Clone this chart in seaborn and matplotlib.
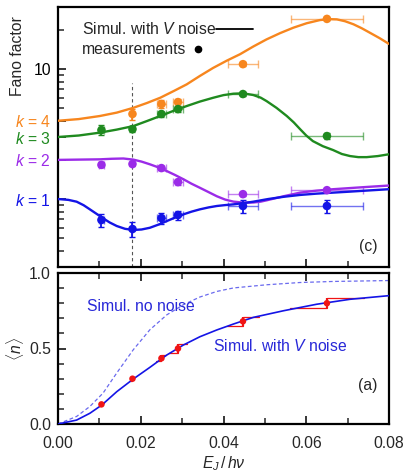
import numpy as np
import pandas as pd
import matplotlib
matplotlib.use("Agg")
import matplotlib.pyplot as plt
import seaborn as sns
from matplotlib.ticker import FixedLocator, NullFormatter

sns.set_style("ticks")
plt.rcParams['font.family'] = ['Liberation Sans', 'DejaVu Sans']
plt.rcParams['mathtext.fontset'] = 'custom'
plt.rcParams['mathtext.rm'] = 'Liberation Sans'
plt.rcParams['mathtext.it'] = 'Liberation Sans:italic'
plt.rcParams['mathtext.bf'] = 'Liberation Sans:bold'

# ---------------- data ----------------
# measurement abscissae and their horizontal uncertainty
x_meas = [0.0105, 0.0180, 0.0250, 0.0290, 0.0447, 0.0650]
x_err = [0.0006, 0.0, 0.0011, 0.0012, 0.0036, 0.0088]

# Fano factor measurements (top panel, log scale)
fano_k4 = [np.nan, 4.51, 5.38, 5.57, 10.9, 24.3]
fano_k4_err = [0.0, 0.45, 0.35, 0.35, 0.4, 0.6]
fano_k3 = [3.39, 3.45, 4.51, 4.92, 6.42, 3.05]
fano_k3_err = [0.3, 0.2, 0.2, 0.25, 0.25, 0.15]
fano_k2 = [1.83, 1.86, 1.73, 1.35, 1.09, 1.17]
fano_k2_err = [0.08, 0.08, 0.05, 0.06, 0.03, 0.03]
fano_k1 = [0.69, 0.588, 0.714, 0.753, 0.884, 0.884]
fano_k1_err = [0.08, 0.08, 0.07, 0.06, 0.10, 0.10]

# simulated curves with V noise (top panel)
sim_k4_x = [0, 0.0050, 0.0101, 0.0142, 0.0182, 0.0215, 0.0247, 0.0280, 0.0311, 0.0343, 0.0375, 0.0408, 0.0440, 0.0472, 0.0504, 0.0537, 0.0569, 0.0601, 0.0633, 0.0655, 0.0674, 0.0694, 0.0714, 0.0734, 0.0754, 0.0777, 0.0800]
sim_k4_y = [4.0, 4.12, 4.35, 4.62, 5.03, 5.48, 6.01, 6.78, 7.62, 8.85, 10.2, 11.6, 13.0, 14.9, 16.9, 18.9, 20.8, 22.5, 23.8, 24.2, 24.1, 23.3, 22.1, 20.6, 19.0, 17.3, 15.6]
sim_k3_x = [0, 0.0050, 0.0101, 0.0142, 0.0182, 0.0215, 0.0247, 0.0280, 0.0311, 0.0343, 0.0375, 0.0400, 0.0424, 0.0448, 0.0472, 0.0490, 0.0504, 0.0528, 0.0553, 0.0570, 0.0585, 0.0600, 0.0616, 0.0640, 0.0665, 0.0686, 0.0706, 0.0726, 0.0746, 0.0773, 0.0800]
sim_k3_y = [3.0, 3.08, 3.24, 3.42, 3.64, 3.98, 4.35, 4.78, 5.19, 5.62, 6.01, 6.30, 6.46, 6.50, 6.31, 6.02, 5.67, 5.03, 4.35, 3.88, 3.45, 3.08, 2.79, 2.55, 2.38, 2.22, 2.14, 2.10, 2.10, 2.14, 2.21]
sim_k2_x = [0, 0.0050, 0.0101, 0.0130, 0.0158, 0.0182, 0.0202, 0.0222, 0.0243, 0.0263, 0.0283, 0.0303, 0.0323, 0.0343, 0.0364, 0.0384, 0.0404, 0.0424, 0.0448, 0.0472, 0.0490, 0.0504, 0.0545, 0.0585, 0.0625, 0.0665, 0.0732, 0.0800]
sim_k2_y = [2.0, 2.01, 2.02, 2.04, 2.05, 2.01, 1.94, 1.85, 1.75, 1.64, 1.53, 1.42, 1.31, 1.22, 1.13, 1.05, 0.99, 0.955, 0.938, 0.940, 0.955, 0.977, 1.05, 1.12, 1.16, 1.19, 1.23, 1.27]
sim_k1_x = [0, 0.0025, 0.0045, 0.0062, 0.0077, 0.0093, 0.0109, 0.0125, 0.0142, 0.0162, 0.0182, 0.0202, 0.0222, 0.0243, 0.0263, 0.0283, 0.0303, 0.0323, 0.0343, 0.0364, 0.0384, 0.0404, 0.0424, 0.0448, 0.0472, 0.0508, 0.0545, 0.0585, 0.0625, 0.0665, 0.0706, 0.0753, 0.0800]
sim_k1_y = [1.0, 0.985, 0.954, 0.896, 0.833, 0.770, 0.711, 0.660, 0.620, 0.590, 0.578, 0.583, 0.601, 0.636, 0.677, 0.720, 0.762, 0.800, 0.833, 0.862, 0.884, 0.898, 0.910, 0.930, 0.954, 1.00, 1.04, 1.075, 1.10, 1.12, 1.14, 1.165, 1.19]

# mean photon number (bottom panel)
n_meas = [0.13, 0.30, 0.435, 0.50, 0.68, 0.80]
n_err = [0.012, 0.012, 0.02, 0.028, 0.031, 0.035]
n_xerr = [0.0005, 0.0005, 0.0012, 0.0022, 0.0038, 0.0089]
sim_n_x = [0, 0.0045, 0.0077, 0.0106, 0.0142, 0.0182, 0.0222, 0.0263, 0.0303, 0.0343, 0.0384, 0.0424, 0.0472, 0.0545, 0.0625, 0.0706, 0.0800]
sim_n_y = [0, 0.026, 0.071, 0.126, 0.214, 0.298, 0.375, 0.457, 0.523, 0.578, 0.623, 0.662, 0.706, 0.750, 0.793, 0.826, 0.850]
sim_nonoise_x = [0, 0.0045, 0.0077, 0.0109, 0.0142, 0.0182, 0.0222, 0.0263, 0.0303, 0.0343, 0.0384, 0.0424, 0.0504, 0.0585, 0.0665, 0.0800]
sim_nonoise_y = [0, 0.05, 0.116, 0.205, 0.338, 0.492, 0.624, 0.723, 0.790, 0.841, 0.878, 0.901, 0.922, 0.937, 0.944, 0.950]

vline_x = 0.018
vline_top = 7.8

# ---------------- style ----------------
C_ORANGE = '#F7861E'
C_GREEN = '#1F8A1F'
C_PURPLE = '#9B2BE8'
C_BLUE = '#1414E6'
C_RED = '#F01414'
C_TXT = '#2828D8'
FS = 11.3

fig = plt.figure(figsize=(4.07, 4.72), dpi=100)
ax1 = fig.add_axes([58/407, 1-267/472, 331/407, 260/472])
ax2 = fig.add_axes([58/407, 1-424/472, 331/407, 151/472])

# ---------------- top panel ----------------
series = [
    (sim_k4_x, sim_k4_y, fano_k4, fano_k4_err, C_ORANGE),
    (sim_k3_x, sim_k3_y, fano_k3, fano_k3_err, C_GREEN),
    (sim_k2_x, sim_k2_y, fano_k2, fano_k2_err, C_PURPLE),
    (sim_k1_x, sim_k1_y, fano_k1, fano_k1_err, C_BLUE),
]
ax1.vlines(vline_x, 0.3, vline_top, colors='#555555', linestyles=(0, (3, 2.5)), linewidth=0.8, zorder=1)
for sx, sy, my, me, col in series:
    df = pd.DataFrame({'x': sx, 'y': sy})
    sns.lineplot(data=df, x='x', y='y', ax=ax1, color=col, linewidth=1.7, zorder=3)
    ax1.errorbar(x_meas, my, xerr=x_err, fmt='none', ecolor=col, alpha=0.6,
                 elinewidth=1.0, capsize=3, capthick=1.0, zorder=2)
    ax1.errorbar(x_meas, my, yerr=me, fmt='none', ecolor=col,
                 elinewidth=1.3, capsize=2, capthick=1.0, zorder=4)
    dm = pd.DataFrame({'x': x_meas, 'y': my})
    sns.scatterplot(data=dm, x='x', y='y', ax=ax1, color=col, s=38, edgecolor='none', zorder=5)

ax1.set_yscale('log')
ax1.set_xlim(0, 0.08)
ax1.set_ylim(0.3, 30)
ax1.set_xlabel('')
ax1.set_ylabel('Fano factor', fontsize=FS)
ax1.yaxis.set_label_coords(-0.10, 0.81)
ax1.set_yticks([1, 2, 3, 4, 10])
ax1.set_yticklabels(['$k$ = 1', '$k$ = 2', '$k$ = 3', '$k$ = 4', '10'])
for lab, col in zip(ax1.get_yticklabels(), [C_BLUE, C_PURPLE, C_GREEN, C_ORANGE, 'black']):
    lab.set_color(col)
ax1.yaxis.set_minor_locator(FixedLocator([0.4, 0.5, 0.6, 0.7, 0.8, 0.9, 5, 6, 7, 8, 9, 20]))
ax1.yaxis.set_minor_formatter(NullFormatter())
ax1.set_xticks([0, 0.02, 0.04, 0.06, 0.08])
ax1.xaxis.set_minor_locator(FixedLocator([0.01, 0.03, 0.05, 0.07]))
ax1.tick_params(axis='both', which='both', direction='in', labelsize=FS)
ax1.tick_params(axis='y', which='major', length=6, width=1.3, pad=5)
ax1.tick_params(axis='y', which='minor', length=4, width=1.1)
ax1.tick_params(axis='x', which='major', length=6, width=1.3, labelbottom=False)
ax1.tick_params(axis='x', which='minor', length=4, width=1.1)

ax1.text(0.0725, 0.915, 'Simul. with $V$ noise', transform=ax1.transAxes, fontsize=FS, va='center', ha='left')
ax1.plot([0.478, 0.588], [0.915, 0.915], color='black', linewidth=1.3, transform=ax1.transAxes)
ax1.text(0.0725, 0.838, 'measurements', transform=ax1.transAxes, fontsize=FS, va='center', ha='left')
ax1.plot([0.423], [0.838], 'o', color='black', markersize=4.5, transform=ax1.transAxes)
ax1.text(0.937, 0.077, '(c)', transform=ax1.transAxes, fontsize=FS, va='center', ha='center')

# ---------------- bottom panel ----------------
sns.lineplot(data=pd.DataFrame({'x': sim_nonoise_x, 'y': sim_nonoise_y}), x='x', y='y', ax=ax2,
             color='#6A6AEE', linewidth=0.9, linestyle=(0, (3, 2)), zorder=2)
sns.lineplot(data=pd.DataFrame({'x': sim_n_x, 'y': sim_n_y}), x='x', y='y', ax=ax2,
             color=C_BLUE, linewidth=1.2, zorder=3)
xm = np.array(x_meas)
nm = np.array(n_meas)
ne = np.array(n_err)
nx = np.array(n_xerr)
for xi, yi, dy, dx in zip(xm, nm, ne, nx):
    ax2.plot([xi - dx, xi], [yi - dy, yi - dy], color=C_RED, linewidth=0.9, zorder=2)
    ax2.plot([xi, xi + dx], [yi + dy, yi + dy], color=C_RED, linewidth=0.9, zorder=2)
ax2.errorbar(xm, nm, yerr=ne, fmt='none', ecolor=C_RED, elinewidth=1.6, capsize=0, zorder=4)
sns.scatterplot(data=pd.DataFrame({'x': x_meas, 'y': n_meas}), x='x', y='y', ax=ax2,
                color=C_RED, s=22, edgecolor='none', zorder=5)

ax2.set_xlim(0, 0.08)
ax2.set_ylim(0, 1.0)
ax2.set_xticks([0, 0.02, 0.04, 0.06, 0.08])
ax2.set_xticklabels(['0.00', '0.02', '0.04', '0.06', '0.08'])
ax2.xaxis.set_minor_locator(FixedLocator([0.01, 0.03, 0.05, 0.07]))
ax2.set_yticks([0, 0.5, 1.0])
ax2.set_yticklabels(['0.0', '0.5', '1.0'])
ax2.yaxis.set_minor_locator(FixedLocator([0.1, 0.2, 0.3, 0.4, 0.6, 0.7, 0.8, 0.9]))
ax2.tick_params(axis='both', which='both', direction='in', labelsize=FS, top=True)
ax2.tick_params(axis='both', which='major', length=6, width=1.3)
ax2.tick_params(axis='both', which='minor', length=4, width=1.1)
ax2.tick_params(axis='x', which='both', pad=9)
ax2.tick_params(axis='y', which='both', pad=5)
ax2.set_xlabel('$E_J\\,/\\,h\\nu$', fontsize=FS, labelpad=2)
ax2.set_ylabel('$\\langle n\\rangle$', fontsize=FS, labelpad=2)

ax2.text(0.088, 0.781, 'Simul. no noise', transform=ax2.transAxes, fontsize=FS, color=C_TXT, va='center', ha='left')
ax2.text(0.468, 0.517, 'Simul. with $V$ noise', transform=ax2.transAxes, fontsize=FS, color=C_TXT, va='center', ha='left')
ax2.text(0.937, 0.252, '(a)', transform=ax2.transAxes, fontsize=FS, va='center', ha='center')

for ax in (ax1, ax2):
    for sp in ax.spines.values():
        sp.set_linewidth(1.6)
        sp.set_visible(True)
        sp.set_color('black')

fig.savefig('out.png', dpi=100)
